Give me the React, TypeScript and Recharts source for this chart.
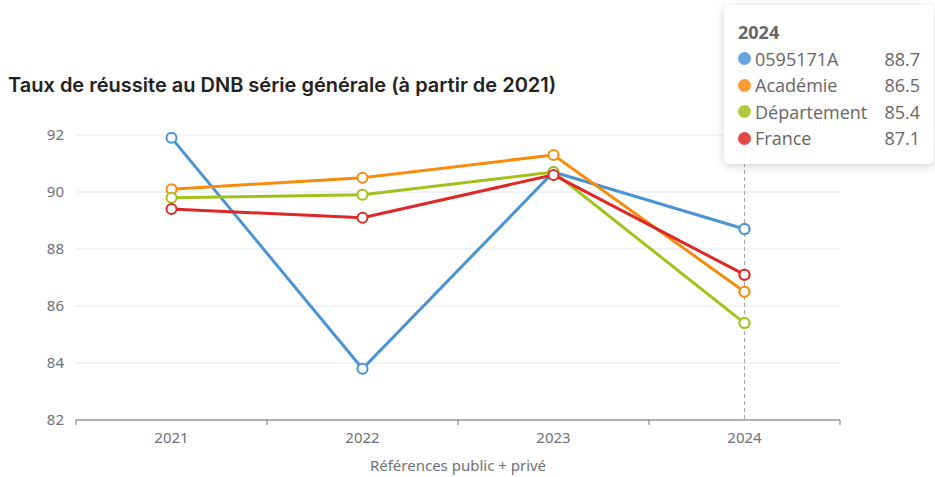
import { LineChart, Line, XAxis, YAxis, CartesianGrid, Tooltip } from "recharts";

const years = ["2021", "2022", "2023", "2024"];
const etablissement = [91.9, 83.8, 90.7, 88.7];
const academie = [90.1, 90.5, 91.3, 86.5];
const departement = [89.8, 89.9, 90.7, 85.4];
const france = [89.4, 89.1, 90.6, 87.1];
const yTicks = [82, 84, 86, 88, 90, 92];

const series = [
  { key: "0595171A", values: etablissement, color: "#4a93d3" },
  { key: "Académie", values: academie, color: "#f98b0c" },
  { key: "Département", values: departement, color: "#a3c11b" },
  { key: "France", values: france, color: "#de2727" },
];

const data = years.map((year, i) => {
  const row: Record<string, string | number> = { year };
  series.forEach((s) => (row[s.key] = s.values[i]));
  return row;
});

const WIDTH = 935;
const HEIGHT = 477;
const PLOT_LEFT = 76;
const PLOT_RIGHT = 840;
const BAND = (PLOT_RIGHT - PLOT_LEFT) / years.length;
const AXIS_GREY = "#6e7079";

function YearTick({ x, y, payload, index }: any) {
  const last = index === years.length - 1;
  return (
    <g>
      <line x1={x - BAND / 2} x2={x - BAND / 2} y1={y} y2={y + 5} stroke={AXIS_GREY} />
      {last && <line x1={x + BAND / 2} x2={x + BAND / 2} y1={y} y2={y + 5} stroke={AXIS_GREY} />}
      <text x={x} y={y + 17} textAnchor="middle" dominantBaseline="central" fill={AXIS_GREY} fontSize={15}>
        {payload.value}
      </text>
    </g>
  );
}

function TooltipBox({ active, payload, label }: any) {
  if (!active || !payload?.length) return null;
  return (
    <div
      style={{
        width: 182,
        padding: "14px 14px 12px 14px",
        background: "#fff",
        borderRadius: 5,
        boxShadow: "0 2px 10px rgba(0,0,0,0.18)",
        color: "#666",
        fontFamily: "'Open Sans', sans-serif",
        fontSize: 18,
        lineHeight: "26.5px",
      }}
    >
      <div style={{ fontWeight: 700 }}>{label}</div>
      {payload.map((p: any) => (
        <div key={p.dataKey} style={{ display: "flex", alignItems: "center" }}>
          <span
            style={{
              width: 13,
              height: 13,
              borderRadius: 7,
              background: p.color,
              opacity: 0.85,
              marginRight: 4,
            }}
          />
          <span style={{ flex: 1 }}>{p.name}</span>
          <span>{p.value}</span>
        </div>
      ))}
    </div>
  );
}

export default function App() {
  return (
    <div style={{ position: "absolute", left: 0, top: 0, width: WIDTH, height: HEIGHT, background: "#fff" }}>
      <div
        style={{
          position: "absolute",
          left: 8,
          top: 73,
          fontFamily: "Inter, sans-serif",
          fontWeight: 600,
          fontSize: 20,
          color: "#222",
        }}
      >
        Taux de réussite au DNB série générale (à partir de 2021)
      </div>
      <LineChart
        width={WIDTH}
        height={HEIGHT}
        data={data}
        margin={{ top: 135, right: WIDTH - PLOT_RIGHT, left: 0, bottom: 5 }}
        style={{ fontFamily: "'Noto Sans', sans-serif" }}
      >
        <CartesianGrid vertical={false} stroke="#e0e6f1" />
        <XAxis
          dataKey="year"
          scale="band"
          height={52}
          stroke={AXIS_GREY}
          tickLine={false}
          tickSize={0}
          tickMargin={0}
          tick={<YearTick />}
          interval={0}
          label={{ value: "Références public + privé", position: "insideBottom", offset: 1, fill: AXIS_GREY, fontSize: 15 }}
        />
        <YAxis
          width={PLOT_LEFT}
          domain={[82, 92]}
          ticks={yTicks}
          axisLine={false}
          tickLine={false}
          tickSize={0}
          tickMargin={12}
          tick={{ fill: AXIS_GREY, fontSize: 15 }}
        />
        <Tooltip
          content={<TooltipBox />}
          defaultIndex={3}
          position={{ x: 724, y: 5 }}
          isAnimationActive={false}
          cursor={{ stroke: "#a0a4ad", strokeDasharray: "4 3", strokeWidth: 1 }}
          wrapperStyle={{ outline: "none" }}
        />
        {series.map((s) => (
          <Line
            key={s.key}
            dataKey={s.key}
            name={s.key}
            stroke={s.color}
            strokeWidth={3}
            dot={{ r: 5, fill: "#fff", stroke: s.color, strokeWidth: 2 }}
            activeDot={{ r: 5, fill: "#fff", stroke: s.color, strokeWidth: 2 }}
            isAnimationActive={false}
          />
        ))}
      </LineChart>
    </div>
  );
}
